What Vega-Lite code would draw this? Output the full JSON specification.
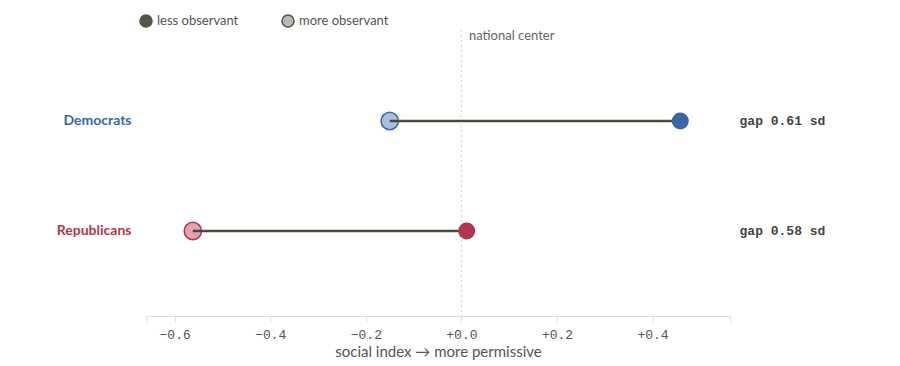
{
  "$schema": "https://vega.github.io/schema/vega-lite/v6.json",
  "width": 584,
  "height": 286,
  "autosize": {"type": "none"},
  "padding": {"left": 146, "top": 30, "right": 170, "bottom": 50},
  "background": "white",
  "config": {"view": {"stroke": null}, "font": "Lato"},
  "datasets": {
    "points": [
      {"party": "Democrats", "observance": "less observant", "value": 0.458},
      {"party": "Democrats", "observance": "more observant", "value": -0.15},
      {"party": "Republicans", "observance": "less observant", "value": 0.011},
      {"party": "Republicans", "observance": "more observant", "value": -0.562}
    ],
    "gaps": [
      {"party": "Democrats", "label": "gap 0.61 sd"},
      {"party": "Republicans", "label": "gap 0.58 sd"}
    ],
    "center": [{"value": 0, "label": "national center"}]
  },
  "resolve": {"scale": {"fill": "independent"}, "axis": {"x": "independent", "y": "independent"}},
  "layer": [
    {
      "data": {"name": "center"},
      "mark": {"type": "rule", "color": "#cfcfcf", "strokeDash": [2, 3], "strokeWidth": 1},
      "encoding": {
        "x": {
          "field": "value", "type": "quantitative",
          "scale": {"domain": [-0.66, 0.562], "nice": false, "zero": false},
          "axis": {
            "orient": "top", "values": [0], "labelExpr": "'national center'",
            "domain": false, "ticks": false, "grid": false, "title": null,
            "labelAlign": "left", "labelOffset": 7, "labelPadding": -12,
            "labelFont": "Lato", "labelFontSize": 13, "labelColor": "#666"
          }
        }
      }
    },
    {
      "data": {"name": "points"},
      "mark": {"type": "circle", "opacity": 0},
      "encoding": {
        "x": {"field": "value", "type": "quantitative", "axis": null},
        "y": {"field": "party", "type": "nominal", "axis": null,
              "scale": {"type": "point", "domain": ["Democrats", "Republicans"], "padding": 0.8, "align": 0.517}},
        "fill": {
          "field": "observance", "type": "nominal",
          "scale": {"domain": ["less observant", "more observant"], "range": ["#55554a", "#b9b9b4"]},
          "legend": {
            "title": null, "orient": "none", "direction": "horizontal",
            "legendX": -7, "legendY": -16,
            "symbolType": "circle", "symbolSize": 144, "symbolOpacity": 1,
            "symbolStrokeColor": "#55554a", "symbolStrokeWidth": 1.5,
            "labelFont": "Lato", "labelFontSize": 13, "labelColor": "#555",
            "columnPadding": 40, "labelOffset": 4
          }
        }
      }
    },
    {
      "data": {"name": "points"},
      "transform": [{"filter": "datum.observance == 'more observant'"}],
      "mark": {"type": "circle", "size": 300, "opacity": 1, "strokeWidth": 1.5},
      "encoding": {
        "x": {"field": "value", "type": "quantitative", "axis": {
          "values": [-0.66, -0.6, -0.4, -0.2, 0, 0.2, 0.4, 0.562],
          "labelExpr": "datum.value < -0.65 || datum.value > 0.5 ? '' : format(datum.value, '+.1f')",
          "title": "social index \u2192 more permissive",
          "titleFont": "Lato", "titleFontSize": 15, "titleFontWeight": "normal", "titleColor": "#555",
          "titlePadding": 3,
          "labelFont": "Liberation Mono", "labelFontSize": 13, "labelColor": "#555", "labelPadding": 6,
          "domainColor": "#e3e0d6", "tickColor": "#e3e0d6", "tickSize": 6, "grid": false,
          "labelFlush": false
        }},
        "y": {"field": "party", "type": "nominal",
              "axis": {
                "title": null, "domain": false, "ticks": false, "labelPadding": 15,
                "labelFont": "Lato", "labelFontSize": 14, "labelFontWeight": "bold",
                "labelColor": {"expr": "datum.value == 'Democrats' ? '#3b67a6' : '#b3364e'"}
              }},
        "fill": {"field": "party", "type": "nominal", "legend": null,
                 "scale": {"domain": ["Democrats", "Republicans"], "range": ["#a9bfdd", "#e0a3b1"]}},
        "stroke": {"field": "party", "type": "nominal", "legend": null,
                   "scale": {"domain": ["Democrats", "Republicans"], "range": ["#3b67a6", "#b3364e"]}}
      }
    },
    {
      "data": {"name": "points"},
      "mark": {"type": "rule", "color": "#4a4a3c", "strokeWidth": 2.5},
      "encoding": {
        "x": {"aggregate": "min", "field": "value", "type": "quantitative", "axis": null},
        "x2": {"aggregate": "max", "field": "value"},
        "y": {"field": "party", "type": "nominal", "axis": null}
      }
    },
    {
      "data": {"name": "points"},
      "transform": [{"filter": "datum.observance == 'less observant'"}],
      "mark": {"type": "circle", "size": 290, "opacity": 1},
      "encoding": {
        "x": {"field": "value", "type": "quantitative", "axis": null},
        "y": {"field": "party", "type": "nominal", "axis": null},
        "fill": {"field": "party", "type": "nominal", "legend": null,
                 "scale": {"domain": ["Democrats", "Republicans"], "range": ["#3b67a6", "#b3364e"]}}
      }
    },
    {
      "data": {"name": "gaps"},
      "mark": {"type": "text", "align": "left", "baseline": "middle", "font": "Liberation Mono", "fontWeight": "bold", "fontSize": 13, "color": "#444"},
      "encoding": {
        "x": {"datum": 0.582, "type": "quantitative", "axis": null},
        "y": {"field": "party", "type": "nominal", "axis": null},
        "text": {"field": "label"}
      }
    }
  ]
}
